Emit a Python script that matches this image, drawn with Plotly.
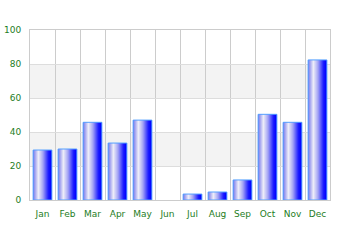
import plotly.graph_objects as go

months = ["Jan", "Feb", "Mar", "Apr", "May", "Jun", "Jul", "Aug", "Sep", "Oct", "Nov", "Dec"]
values = [29.4, 30, 45.7, 33.5, 47, 0, 3.5, 4.7, 11.8, 50.4, 45.7, 82.4]
y_ticks = [0, 20, 40, 60, 80, 100]

x = list(range(len(months)))
fig = go.Figure()

bar_w = 0.75
n = 18
stops = [(0.0, (115, 115, 235)), (0.3, (238, 238, 248)), (0.55, (165, 165, 245)),
         (0.85, (30, 30, 255)), (1.0, (0, 0, 255))]

def col(t):
    for (a, ca), (b, cb) in zip(stops[:-1], stops[1:]):
        if a <= t <= b:
            f = (t - a) / (b - a)
            c = [round(ca[k] + (cb[k] - ca[k]) * f) for k in range(3)]
            return f"rgb({c[0]},{c[1]},{c[2]})"
    return "rgb(0,0,255)"

sw = bar_w / n
for i in range(n):
    t = (i + 0.5) / n
    fig.add_trace(go.Bar(x=x, y=values, width=sw * 1.05, offset=-bar_w / 2 + i * sw,
                         marker=dict(color=col(t), line=dict(width=0)),
                         hoverinfo="skip", showlegend=False))

outline_w = [1 if v > 0 else 0 for v in values]
fig.add_trace(go.Bar(x=x, y=values, width=bar_w, offset=-bar_w / 2,
                     marker=dict(color="rgba(0,0,0,0)", line=dict(color="#55a0ff", width=outline_w)),
                     showlegend=False))

for lo, hi in [(20, 40), (60, 80)]:
    fig.add_shape(type="rect", xref="paper", yref="y", x0=0, x1=1, y0=lo, y1=hi,
                  fillcolor="#f3f3f3", line=dict(width=0), layer="below")

green = "#1e7d1e"
fig.update_layout(
    width=360, height=240, barmode="overlay",
    margin=dict(l=30, r=30, t=30, b=40),
    paper_bgcolor="white", plot_bgcolor="white",
    font=dict(family="DejaVu Sans", size=9, color=green),
    xaxis=dict(range=[-0.5, 11.5], tickvals=x, ticktext=months, showgrid=False,
               minor=dict(tick0=-0.5, dtick=1, showgrid=True, gridcolor="#cccccc", gridwidth=1),
               showline=True, mirror=True, linecolor="#cccccc", linewidth=1,
               ticks="", zeroline=False, ticklabelstandoff=5, automargin=False,
               tickfont=dict(color=green, size=9)),
    yaxis=dict(range=[0, 100], tickvals=y_ticks, showgrid=True, gridcolor="#dddddd",
               showline=True, mirror=True, linecolor="#cccccc", linewidth=1,
               ticks="", zeroline=False, ticklabelstandoff=6, automargin=False,
               tickfont=dict(color=green, size=9)),
)

fig.write_html("out.html")
